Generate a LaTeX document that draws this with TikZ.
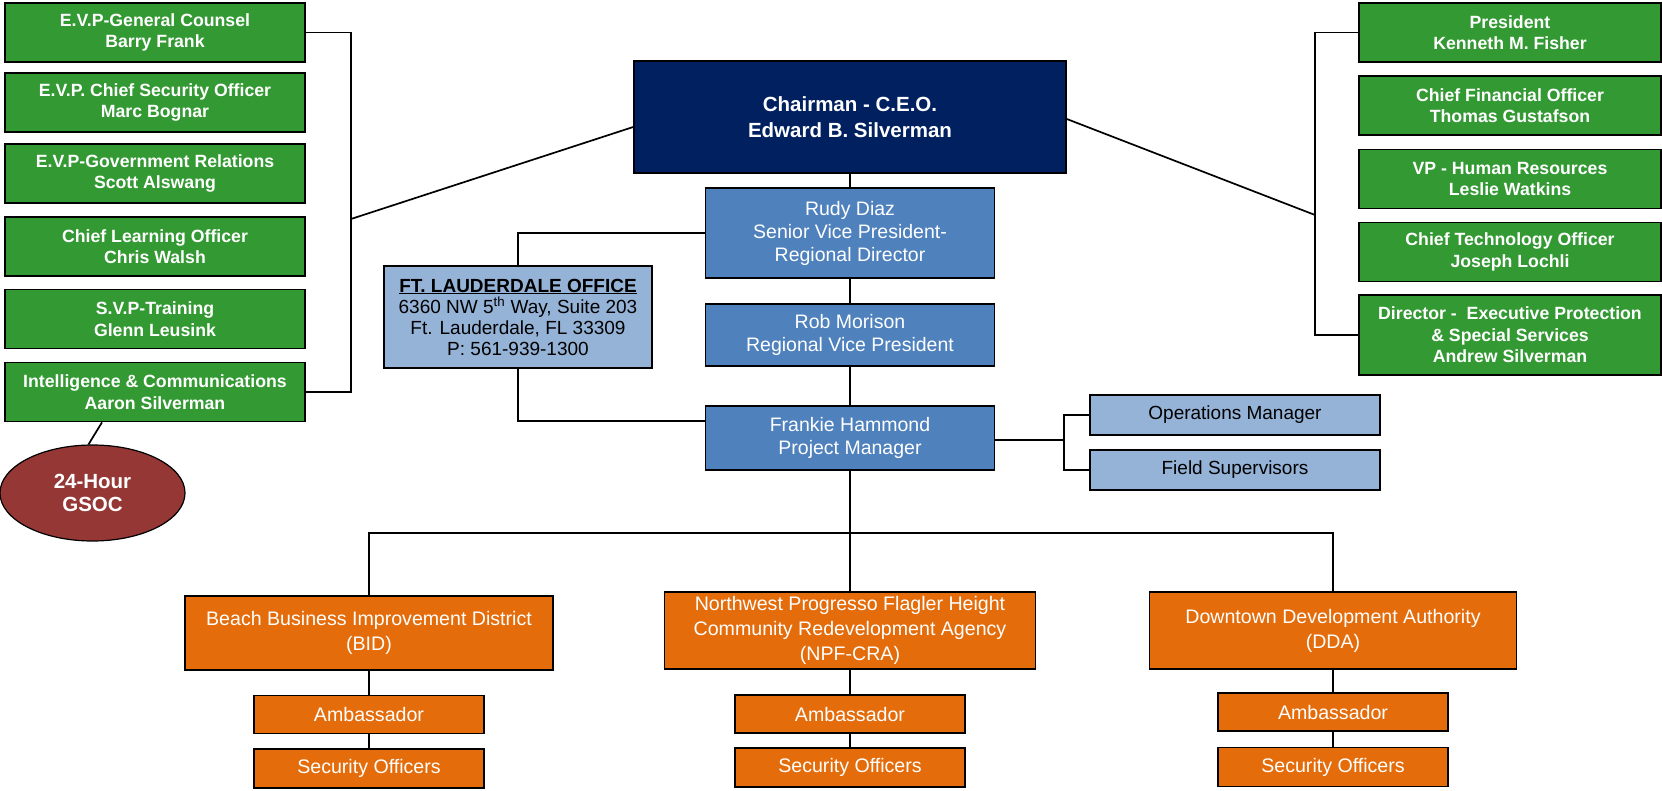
\documentclass[tikz,border=0pt]{standalone}
\usepackage{fontspec}
\setmainfont{Liberation Sans}
\usetikzlibrary{shapes.geometric}
\definecolor{gbox}{HTML}{339933}
\definecolor{navy}{HTML}{002060}
\definecolor{bluebox}{HTML}{4F81BD}
\definecolor{lightbox}{HTML}{95B3D7}
\definecolor{orangebox}{HTML}{E46C0A}
\definecolor{gsocred}{HTML}{953735}
\tikzset{
 base/.style={draw=black, line width=1.6pt, align=center, inner sep=0pt},
 greenbox/.style={base, fill=gbox, text=white, font=\fontsize{17.7}{21.5}\selectfont\bfseries, minimum width=300pt, minimum height=59pt},
 ceobox/.style={base, fill=navy, text=white, font=\fontsize{20.5}{26}\selectfont\bfseries, minimum width=432pt, minimum height=112pt},
 bluenode/.style={base, fill=bluebox, text=white, font=\fontsize{19.5}{23}\selectfont, minimum width=289pt},
 lightnode/.style={base, fill=lightbox, text=black, font=\fontsize{19}{21}\selectfont},
 orangenode/.style={base, fill=orangebox, text=white, font=\fontsize{19.6}{25}\selectfont},
 conn/.style={draw=black, line width=1.7pt}
}
\begin{document}
\begin{tikzpicture}[x=1pt,y=-1pt]
\useasboundingbox (0,0) rectangle (1662,791);
% left green column
\node[greenbox] (g1) at (155,32.5) {E.V.P-General Counsel\\Barry Frank};
\node[greenbox] (g2) at (155,102.5) {E.V.P. Chief Security Officer\\Marc Bognar};
\node[greenbox] (g3) at (155,173.5) {E.V.P-Government Relations\\Scott Alswang};
\node[greenbox] (g4) at (155,246.5) {Chief Learning Officer\\Chris Walsh};
\node[greenbox] (g5) at (155,319) {S.V.P-Training\\Glenn Leusink};
\node[greenbox] (g6) at (155,392) {Intelligence \& Communications\\Aaron Silverman};
% right green column
\node[greenbox, minimum width=302pt] (r1) at (1510,32.5) {President\\Kenneth M. Fisher};
\node[greenbox, minimum width=302pt] (r2) at (1510,105.5) {Chief Financial Officer\\Thomas Gustafson};
\node[greenbox, minimum width=302pt] (r3) at (1510,179) {VP - Human Resources\\Leslie Watkins};
\node[greenbox, minimum width=302pt] (r4) at (1510,252) {Chief Technology Officer\\Joseph Lochli};
\node[greenbox, minimum width=302pt, minimum height=80pt] (r5) at (1510,335) {Director -\ \ Executive Protection\\\& Special Services\\Andrew Silverman};
% GSOC
\node[draw=black, line width=1.2pt, ellipse, fill=gsocred, text=white, minimum width=185pt, minimum height=96pt, inner sep=0pt, align=center, font=\fontsize{20.5}{23}\selectfont\bfseries] (gsoc) at (92.5,493) {24-Hour\\GSOC};
% centre column
\node[ceobox] (ceo) at (850,117) {Chairman - C.E.O.\\Edward B. Silverman};
\node[bluenode, minimum height=90pt] (rudy) at (850,233) {Rudy Diaz\\Senior Vice President-\\Regional Director};
\node[bluenode, minimum height=62pt] (rob) at (850,335) {Rob Morison\\Regional Vice President};
\node[bluenode, minimum height=64pt] (frankie) at (850,438) {Frankie Hammond\\Project Manager};
\node[lightnode, minimum width=268pt, minimum height=102pt] (ft) at (518,317) {\textbf{\underline{FT. LAUDERDALE OFFICE}}\\6360 NW 5\textsuperscript{th} Way, Suite 203\\Ft. Lauderdale, FL 33309\\P: 561-939-1300};
\node[lightnode, font=\fontsize{19}{23}\selectfont, minimum width=290pt, minimum height=40pt] (ops) at (1235,415) {Operations Manager};
\node[lightnode, font=\fontsize{19}{23}\selectfont, minimum width=290pt, minimum height=40pt] (field) at (1235,470) {Field Supervisors};
% orange
\node[orangenode, minimum width=368pt, minimum height=74pt] (bid) at (369,633) {Beach Business Improvement District\\(BID)};
\node[orangenode, minimum width=371pt, minimum height=77pt] (npf) at (850,630.5) {Northwest Progresso Flagler Height\\Community Redevelopment Agency\\(NPF-CRA)};
\node[orangenode, minimum width=367pt, minimum height=77pt] (dda) at (1333,630.5) {Downtown Development Authority\\(DDA)};
\node[orangenode, minimum width=230pt, minimum height=38pt] (amb1) at (369,714.5) {Ambassador};
\node[orangenode, minimum width=230pt, minimum height=38pt] (amb2) at (850,714) {Ambassador};
\node[orangenode, minimum width=230pt, minimum height=38pt] (amb3) at (1333,712) {Ambassador};
\node[orangenode, minimum width=230pt, minimum height=39pt] (sec1) at (369,768.5) {Security Officers};
\node[orangenode, minimum width=230pt, minimum height=39pt] (sec2) at (850,767.5) {Security Officers};
\node[orangenode, minimum width=230pt, minimum height=39pt] (sec3) at (1333,767) {Security Officers};
% coordinates
\coordinate (lbx) at (351,219);
\coordinate (rbx) at (1315,215);
\coordinate (bar) at (850,533);
\coordinate (opsx) at (1064,440);
% connectors
\draw[conn] (g1.east) -| (lbx) |- (g6.east);
\draw[conn] (lbx) -- ([yshift=-10pt]ceo.west);
\draw[conn] (r1.west) -| (rbx) |- (r5.west);
\draw[conn] (rbx) -- ([yshift=-2pt]ceo.east);
\draw[conn] ([xshift=-53pt]g6.south) -- ([xshift=-4pt]gsoc.north);
\draw[conn] (ceo) -- (rudy);
\draw[conn] (rudy) -- (rob);
\draw[conn] (rob) -- (frankie);
\draw[conn] (rudy.west) -| (ft.north);
\draw[conn] (ft.south) |- ([yshift=17pt]frankie.west);
\draw[conn] ([yshift=-2pt]frankie.east) -- (opsx);
\draw[conn] (ops.west) -| (opsx) |- (field.west);
\draw[conn] (frankie) -- (bar);
\draw[conn] (bid.north) |- (bar) -| (dda.north);
\draw[conn] (bar) -- (npf.north);
\draw[conn] (bid) -- (amb1);
\draw[conn] (amb1) -- (sec1);
\draw[conn] (npf) -- (amb2);
\draw[conn] (amb2) -- (sec2);
\draw[conn] (dda) -- (amb3);
\draw[conn] (amb3) -- (sec3);
\end{tikzpicture}
\end{document}
